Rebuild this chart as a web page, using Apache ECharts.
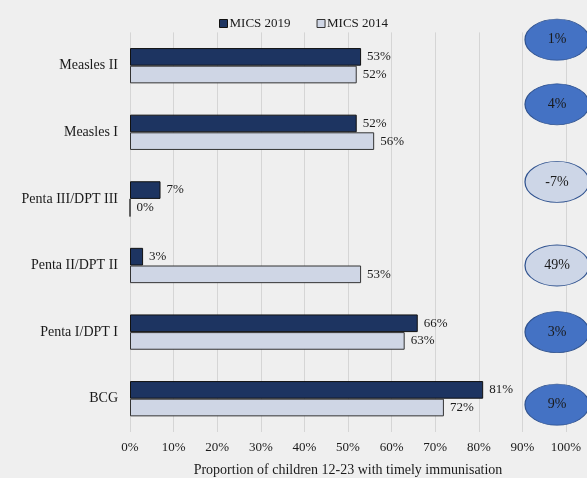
<!DOCTYPE html>
<html>
<head>
<meta charset="utf-8">
<script src="https://cdn.jsdelivr.net/npm/echarts@6/dist/echarts.min.js"></script>
<style>
html,body{margin:0;padding:0;background:#efefef;}
#chart{width:587px;height:478px;}
</style>
</head>
<body>
<div id="chart"></div>
<script>
const categories = ['Measles II', 'Measles I', 'Penta III/DPT III', 'Penta II/DPT II', 'Penta I/DPT I', 'BCG'];
const mics2019 = [53, 52, 7, 3, 66, 81];
const mics2014 = [52, 56, 0, 53, 63, 72];
const diffValues = [1, 4, -7, 49, 3, 9];
const diffLight = [false, false, true, true, false, false];
const diffOffsetY = [-26, -28, -17, 0, 0, 6];
const xTicks = [0, 10, 20, 30, 40, 50, 60, 70, 80, 90, 100];

const font = 'Liberation Serif';
const chart = echarts.init(document.getElementById('chart'));
chart.setOption({
  backgroundColor: '#efefef',
  animation: false,
  textStyle: { fontFamily: font },
  legend: {
    left: 214, top: 12,
    itemWidth: 8, itemHeight: 8, itemGap: 26,
    icon: 'rect',
    textStyle: { fontFamily: font, fontSize: 13, color: '#1a1a1a', padding: [0, 0, 0, -3] },
    data: [
      { name: 'MICS 2019', itemStyle: { color: '#1d3461', borderColor: '#111', borderWidth: 1 } },
      { name: 'MICS 2014', itemStyle: { color: '#cfd6e5', borderColor: '#333', borderWidth: 1 } }
    ]
  },
  grid: { left: 130, right: 21, top: 32.4, bottom: 46, containLabel: false, outerBoundsMode: 'none' },
  xAxis: {
    type: 'value', min: 0, max: 100, interval: 10,
    axisLine: { show: false }, axisTick: { show: false },
    splitLine: { show: true, lineStyle: { color: '#d5d5d5', width: 1 } },
    axisLabel: { formatter: v => xTicks.includes(v) ? v + '%' : '', fontFamily: font, fontSize: 13, color: '#1a1a1a', margin: 9 },
    name: 'Proportion of children 12-23 with timely immunisation',
    nameLocation: 'middle', nameGap: 31,
    nameTextStyle: { fontFamily: font, fontSize: 14, color: '#1a1a1a' }
  },
  yAxis: {
    type: 'category', data: categories, inverse: true,
    axisLine: { show: false }, axisTick: { show: false },
    axisLabel: { fontFamily: font, fontSize: 14, color: '#1a1a1a', margin: 12 }
  },
  series: [
    {
      name: 'MICS 2019', type: 'bar', data: mics2019,
      barCategoryGap: '47%', barGap: '0%',
      itemStyle: { color: '#1d3461', borderColor: '#111', borderWidth: 1 },
      label: { show: true, position: 'right', distance: 6, formatter: '{c}%', fontFamily: font, fontSize: 13, color: '#1a1a1a' }
    },
    {
      name: 'MICS 2014', type: 'bar', data: mics2014,
      itemStyle: { color: '#cfd6e5', borderColor: '#333', borderWidth: 1 },
      label: { show: true, position: 'right', distance: 6, formatter: '{c}%', fontFamily: font, fontSize: 13, color: '#1a1a1a' }
    },
    {
      name: 'diff', type: 'scatter', clip: false, z: 5,
      symbol: 'circle', symbolSize: [64, 41],
      data: diffValues.map((d, i) => ({
        value: [100, categories[i]],
        symbolOffset: [-9, diffOffsetY[i]],
        itemStyle: {
          color: diffLight[i] ? '#cdd6e7' : '#4472c4',
          borderColor: '#2f528f', borderWidth: 1, opacity: 1
        },
        label: {
          show: true, position: 'inside',
          formatter: d + '%', fontFamily: font, fontSize: 14, color: '#1a1a1a'
        }
      })),
      emphasis: { disabled: true }
    }
  ]
});
</script>
</body>
</html>
